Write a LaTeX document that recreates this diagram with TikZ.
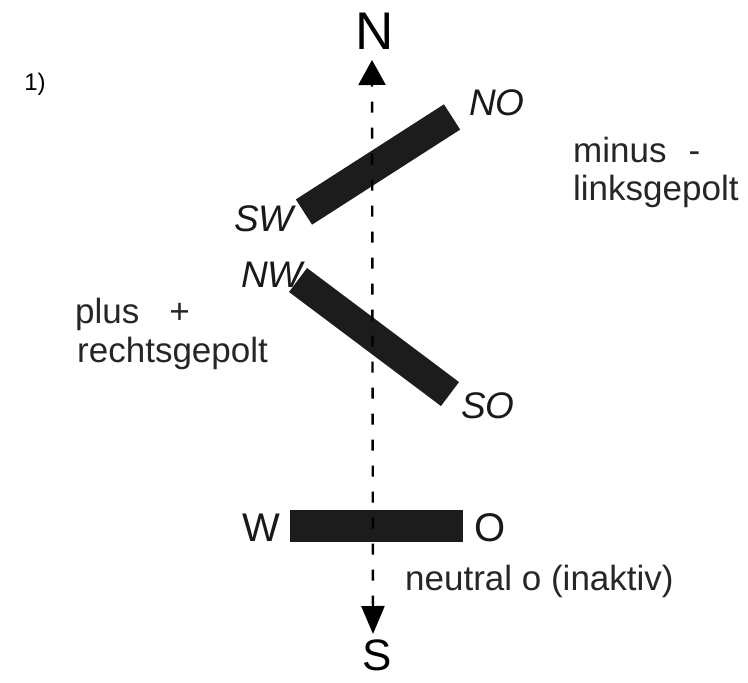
\documentclass[tikz,border=0pt]{standalone}
\usepackage{fontspec}
\setmainfont{Liberation Sans}
\usetikzlibrary{arrows.meta}
\definecolor{barc}{HTML}{1C1C1C}
\begin{document}
\begin{tikzpicture}[x=1pt,y=-1pt,
  bar/.style={fill=barc,draw=none,inner sep=0,minimum height=30pt},
  txt/.style={anchor=base west,inner sep=0,font=\fontsize{35}{40}\selectfont,text=black!85},
  lab/.style={inner sep=0,font=\fontsize{37}{40}\selectfont\itshape,text=black!90},
  ulab/.style={inner sep=0,font=\fontsize{40}{44}\selectfont,text=black!90},
  axis/.style={line width=2.4pt,dash pattern=on 11pt off 15pt,{Triangle[width=23pt,length=28pt]}-{Triangle[width=27pt,length=25pt]}}]
\useasboundingbox (0,0) rectangle (748,683);
\fill[white] (0,0) rectangle (748,683);
% bars
\node[bar,minimum width=176pt,rotate=32.7] (b1) at (378,164.5) {};
\node[bar,minimum width=190pt,rotate=-36.9] (b2) at (374,337) {};
\node[bar,minimum width=173pt,minimum height=32pt] (b3) at (376.5,526) {};
% axis
\coordinate (top) at (372,60);
\coordinate (bot) at (373,634);
\draw[axis] (bot) -- (top);
\node[inner sep=0,font=\fontsize{53}{56}\selectfont] (N) at (375,31) {N};
\node[inner sep=0,font=\fontsize{44}{48}\selectfont] (S) at (377,655) {S};
% labels
\node[lab] (NO) at (497,103) {NO};
\node[lab] (SW) at (264,219) {SW};
\node[lab] (NW) at (272,275) {NW};
\node[lab] (SO) at (488,406) {SO};
\node[ulab] (W) at (261,528) {W};
\node[ulab] (O) at (490,528) {O};
% texts
\node[inner sep=0,font=\fontsize{24}{26}\selectfont] (one) at (35,84) {1)};
\node[txt] (minus) at (573,162) {minus\hspace{22pt}-};
\node[txt] (links) at (573,200) {linksgepolt};
\node[txt] (plus) at (75,323) {plus\hspace{30pt}+};
\node[txt] (rechts) at (77,362) {rechtsgepolt};
\node[txt] (neutral) at (405,590) {neutral o (inaktiv)};
\end{tikzpicture}
\end{document}
